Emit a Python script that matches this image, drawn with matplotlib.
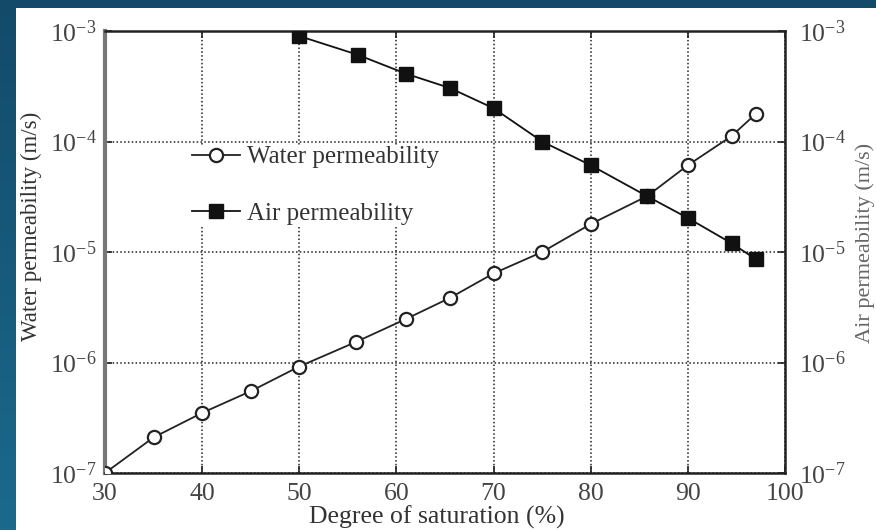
import matplotlib
matplotlib.use('Agg')
import matplotlib.pyplot as plt
import numpy as np
from matplotlib.patches import Rectangle

plt.rcParams.update(
    {
        'font.family': 'Liberation Serif',
        'mathtext.fontset': 'custom',
        'mathtext.rm': 'Liberation Serif',
        'mathtext.it': 'Liberation Serif:italic',
        'font.size': 16,
        'axes.labelsize': 16,
        'xtick.labelsize': 18.5,
        'ytick.labelsize': 18.5,
    }
)

# Degree of saturation (%)
water_saturation = [30, 35, 40, 45, 50, 55.8, 61, 65.5, 70, 75, 80, 85.8, 90, 94.5, 97]
water_permeability = [1.0e-7, 2.1e-7, 3.5e-7, 5.5e-7, 9.2e-7, 1.53e-6, 2.48e-6, 3.84e-6,
                      6.4e-6, 1.0e-5, 1.79e-5, 3.2e-5, 6.1e-5, 1.12e-4, 1.78e-4]

air_saturation = [50, 56, 61, 65.5, 70, 75, 80, 85.8, 90, 94.5, 97]
air_permeability = [9.0e-4, 6.1e-4, 4.1e-4, 3.05e-4, 2.0e-4, 1.0e-4, 6.1e-5, 3.2e-5,
                     2.03e-5, 1.2e-5, 8.6e-6]

x_ticks = [30, 40, 50, 60, 70, 80, 90, 100]
y_ticks = [1e-7, 1e-6, 1e-5, 1e-4, 1e-3]
y_ticklabels = [r'$10^{-7}$', r'$10^{-6}$', r'$10^{-5}$', r'$10^{-4}$', r'$10^{-3}$']

W, H = 876, 530
fig = plt.figure(figsize=(W / 100, H / 100), dpi=100)

# slide background: blue gradient with a white card
bg = fig.add_axes([0, 0, 1, 1], zorder=-10)
grad = np.linspace(0, 1, 256).reshape(-1, 1)
top = np.array([0x13, 0x4a, 0x6a]) / 255
bottom = np.array([0x1b, 0x6a, 0x8c]) / 255
img = top + grad[..., None] * (bottom - top)
bg.imshow(img, aspect='auto', extent=[0, 1, 0, 1])
bg.add_patch(Rectangle((16 / W, 0), 1, (H - 8) / H, facecolor='white',
                       edgecolor='none', transform=bg.transAxes))
bg.set_xlim(0, 1)
bg.set_ylim(0, 1)
bg.axis('off')

ax = fig.add_axes([105 / W, (H - 473) / H, 680 / W, 442 / H])
ax2 = ax.twinx()

for a in (ax, ax2):
    a.set_yscale('log')
    a.set_ylim(1e-7, 1e-3)
    a.set_yticks(y_ticks)
    a.set_yticklabels(y_ticklabels)
    a.yaxis.set_minor_locator(matplotlib.ticker.NullLocator())
    a.tick_params(axis='both', direction='in', length=5, width=1.2,
                  colors='#222', labelcolor='#444')

ax.set_xlim(30, 100)
ax.set_xticks(x_ticks)
ax.tick_params(axis='x', pad=7, top=True)
ax.tick_params(axis='y', pad=6)
ax2.tick_params(axis='y', pad=10)

ax.grid(True, which='major', color='#222', linestyle=(0, (1, 1.5)), linewidth=1.1)

for name, sp in ax.spines.items():
    sp.set_linewidth(1.8)
    sp.set_color('#222')
ax.spines['left'].set_color('#777')
ax.spines['left'].set_linewidth(3)
for sp in ax2.spines.values():
    sp.set_visible(False)

h1, = ax.plot(water_saturation, water_permeability, '-o', color='#222',
              linewidth=1.3, markersize=9.5, markerfacecolor='white',
              markeredgecolor='#222', markeredgewidth=1.6,
              label='Water permeability', zorder=3)
h2, = ax2.plot(air_saturation, air_permeability, '-s', color='#111',
               linewidth=1.3, markersize=10, markerfacecolor='#111',
               markeredgecolor='#111', label='Air permeability', zorder=3)

ax.set_xlabel('Degree of saturation (%)', color='#333', fontsize=18.5)
ax.xaxis.set_label_coords(0.488, -0.074)
ax.set_ylabel('Water permeability (m/s)', color='#333', fontsize=16.5)
ax.yaxis.set_label_coords(-0.093, 0.557)
ax2.set_ylabel('Air permeability (m/s)', color='#666', fontsize=16)
ax2.yaxis.set_label_coords(1.104, 0.52)

leg = ax2.legend(
    [h1, h2], ['Water permeability', 'Air permeability'],
    loc='upper left', bbox_to_anchor=(0.128, 0.74),
    frameon=True, framealpha=1, edgecolor='none', facecolor='white',
    fontsize=18, borderpad=0.0, borderaxespad=0,
    handlelength=1.9, handletextpad=0.3, labelspacing=1.35,
)
for t in leg.get_texts():
    t.set_color('#333')

fig.savefig('out.png', dpi=100)
